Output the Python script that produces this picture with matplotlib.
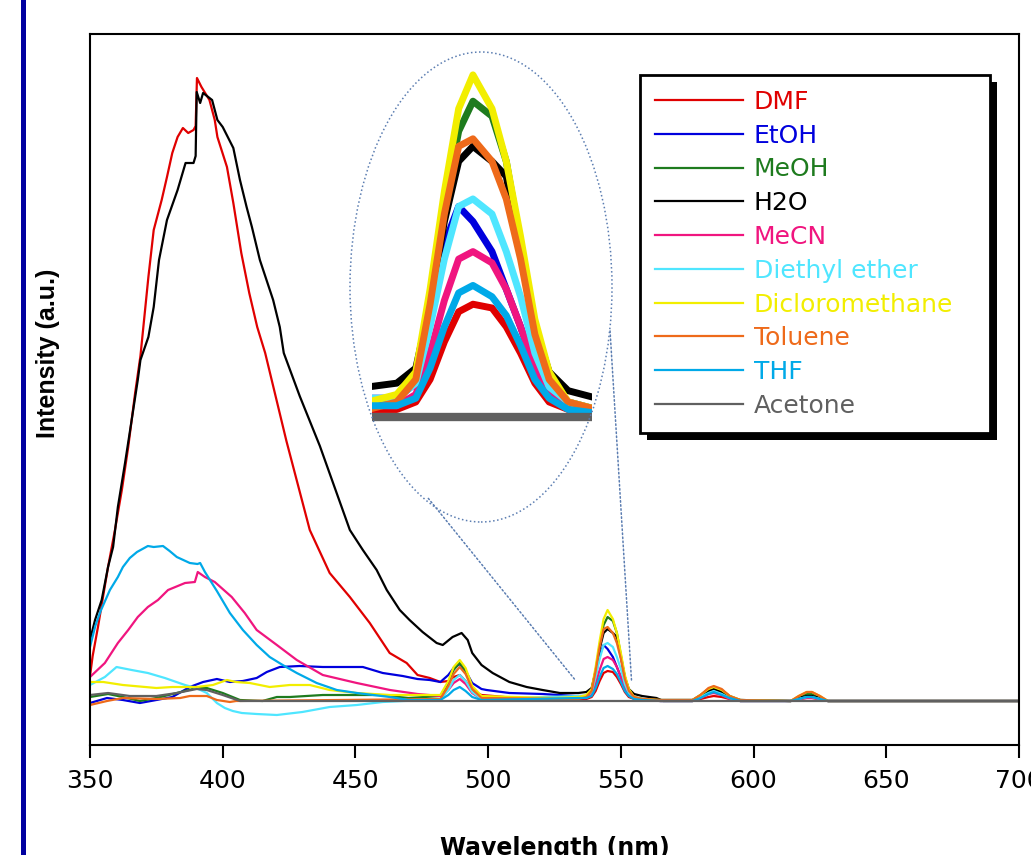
import matplotlib
matplotlib.use('Agg')
import matplotlib.pyplot as plt
from matplotlib.patches import Ellipse, Rectangle, ConnectionPatch
from matplotlib.lines import Line2D
from matplotlib.transforms import IdentityTransform

plt.rcParams['font.family'] = 'DejaVu Sans'

# emission spectra, (wavelength nm, intensity a.u.)
dmf = [(350, 25), (351, 45), (353, 74), (356.8, 134), (359.4, 171), (362, 211), (364.4, 254), (367, 308),
       (369, 345), (372, 424), (374, 471), (377, 501), (379, 524), (381, 548), (383, 564), (385, 573),
       (387, 568), (389, 571), (389.8, 575), (390.3, 623), (392, 614), (395, 601), (397, 581), (398, 564),
       (401.6, 534), (404, 498), (407, 448), (410, 408), (413, 374), (416, 348), (424, 260), (432.8, 171),
       (440.3, 128), (447.9, 104), (455.4, 78), (462.9, 48), (469.3, 38), (473.4, 26), (478, 23), (482, 19),
       (485, 20), (487, 24), (489.3, 26), (491.5, 20), (494, 10), (497.5, 6), (502, 5), (510, 3), (520, 1),
       (534, 2), (537, 2), (539, 4), (540.5, 10), (542, 20), (543.5, 28), (545, 30), (547, 29), (548.5, 24),
       (550, 17), (551.5, 9), (553, 4), (555, 2), (558, 1), (565, 0), (577, 0), (580, 2), (583, 4), (585, 5),
       (588, 4), (591, 2), (595, 0), (614, 0), (617, 2), (620, 3), (622, 3), (625, 2), (628, 0), (700, 0)]

etoh = [(350, -2), (356.4, 3), (362.4, 1), (368.8, -2), (375, 1), (381, 4), (387.6, 14), (392.6, 19),
        (397.8, 22), (402.7, 19), (407.6, 20), (412.8, 23), (416.6, 29), (421.5, 34), (429, 35), (437.7, 34),
        (445.2, 34), (452.8, 34), (460.3, 28), (467.8, 25), (473.4, 22), (478, 21), (482, 19), (485, 26),
        (487, 33), (489.3, 37), (491.5, 30), (494, 18), (497.5, 12), (499.4, 11), (508, 8), (520.5, 7),
        (533, 5), (537, 5), (539, 9), (540.5, 25), (542, 46), (543.5, 56), (545, 52), (547, 44), (548.5, 34),
        (550, 24), (551.5, 13), (553, 6), (555, 3), (558, 2), (565, 1), (577, 1), (580, 5), (583, 10),
        (585, 11), (588, 8), (591, 3), (595, 1), (614, 0), (617, 2), (620, 4), (622, 4), (625, 2), (628, 0),
        (700, 0)]

meoh = [(350, 4), (356.8, 7), (362.4, 4), (368.8, 0), (375, 3), (382.7, 8), (390.2, 13), (394, 13),
        (400, 8), (406.5, 1), (415, 0), (420.4, 4), (425.3, 4), (437.7, 6), (450.5, 6), (459, 6), (470, 3),
        (482, 5), (485, 18), (487, 31), (489.3, 38), (491.5, 30), (494, 13), (497.5, 4), (520, 2), (534, 3),
        (537, 5), (539, 11), (540.5, 31), (542, 56), (543.5, 76), (545, 84), (547, 80), (548.5, 68),
        (550, 46), (551.5, 24), (553, 10), (555, 4), (558, 2), (565, 1), (577, 1), (580, 6), (583, 12),
        (585, 14), (588, 11), (591, 5), (595, 1), (614, 0), (617, 4), (620, 7), (622, 7), (625, 4), (628, 0),
        (700, 0)]

h2o = [(350, 61), (351.9, 81), (354.4, 101), (356.8, 134), (358.7, 154), (360.5, 194), (363.2, 238),
       (365.7, 281), (368, 321), (369, 341), (372, 364), (374, 394), (376, 441), (379, 481), (383, 511),
       (386, 538), (389, 538), (389.8, 545), (390.2, 609), (391.5, 598), (392.6, 608), (396, 601), (398, 581),
       (400, 574), (404, 553), (406.5, 521), (409, 494), (411, 474), (414, 441), (419, 401), (421.5, 374),
       (423, 348), (429, 305), (436.6, 255), (447.9, 171), (452.8, 151), (458, 131), (461.8, 111),
       (466.7, 91), (470.4, 81), (475.3, 69), (480.6, 58), (482.9, 56), (486.6, 64), (490, 68), (492.3, 61),
       (494, 48), (497.5, 36), (501.7, 28), (508, 19), (514.5, 14), (520.5, 11), (527, 8), (534, 8),
       (537, 9), (539, 13), (540.5, 30), (542, 52), (543.5, 68), (545, 72), (547, 68), (548.5, 64), (550, 44),
       (551.5, 24), (553, 12), (555, 7), (558, 5), (563.4, 3), (566, 0), (577, 0), (580, 4), (583, 10),
       (585, 12), (588, 9), (591, 4), (595, 0), (614, 0), (617, 3), (620, 5), (622, 5), (625, 3), (628, 0),
       (700, 0)]

mecn = [(350, 24), (355.6, 38), (360.5, 58), (364.4, 71), (368, 84), (371.8, 94), (375.6, 101),
        (379.4, 111), (385.8, 118), (389.5, 119), (390.6, 129), (393.3, 124), (397, 119), (403.4, 104),
        (408.3, 88), (412.8, 71), (420.4, 56), (427.9, 41), (437.7, 26), (450.5, 18), (463, 11), (473.4, 7),
        (482, 5), (485, 11), (487, 18), (489.3, 22), (491.5, 17), (494, 8), (497.5, 2), (534, 3), (537, 3),
        (539, 6), (540.5, 17), (542, 31), (543.5, 42), (545, 44), (547, 41), (548.5, 34), (550, 24),
        (551.5, 13), (553, 6), (555, 3), (558, 1), (565, 0), (577, 0), (580, 3), (583, 7), (585, 8), (588, 6),
        (591, 2), (595, 0), (614, 0), (617, 2), (620, 3), (622, 3), (625, 2), (628, 0), (700, 0)]

ether = [(350, 16), (355.6, 24), (360, 34), (365.7, 31), (371.8, 28), (378.2, 23), (385.8, 16), (390, 13),
         (394, 8), (397.8, -2), (400.8, -7), (403.8, -10), (407.2, -12), (412.8, -13), (420.4, -14),
         (430, -11), (440.3, -6), (450.5, -4), (460.3, -1), (467.8, 0), (482, 1), (485, 11), (487, 21),
         (489.3, 26), (491.5, 20), (494, 9), (497.5, 2), (534, 5), (537, 5), (539, 9), (540.5, 24), (542, 42),
         (543.5, 56), (545, 58), (547, 54), (548.5, 44), (550, 32), (551.5, 17), (553, 8), (555, 4), (558, 2),
         (565, 0), (577, 0), (580, 4), (583, 8), (585, 10), (588, 7), (591, 3), (595, 0), (614, 0), (617, 2),
         (620, 4), (622, 4), (625, 2), (628, 0), (700, 0)]

dcm = [(350, 19), (355, 19), (362.4, 16), (375, 13), (381, 14), (390.2, 14), (396.3, 16), (401.6, 21),
       (405, 19), (410.2, 18), (417.7, 14), (425.3, 16), (432.8, 16), (440.3, 11), (450.5, 8), (463, 6),
       (473.4, 6), (482, 6), (485, 20), (487, 34), (489.3, 41), (491.5, 33), (494, 15), (497.5, 5), (510, 4),
       (525, 3), (534, 4), (537, 6), (539, 12), (540.5, 34), (542, 60), (543.5, 82), (545, 91), (547, 82),
       (548.5, 68), (550, 48), (551.5, 26), (553, 12), (555, 4), (558, 2), (565, 1), (577, 1), (580, 6),
       (583, 12), (585, 14), (588, 11), (591, 5), (595, 1), (614, 0), (617, 5), (620, 9), (622, 9), (625, 5),
       (628, 0), (700, 0)]

toluene = [(350, -4), (356.4, 0), (362.4, 3), (375, 2), (384, 3), (387.6, 5), (394, 5), (397.8, 1),
           (402.7, -1), (405, 0), (482, 2), (485, 15), (487, 27), (489.3, 34), (491.5, 27), (494, 12),
           (497.5, 3), (534, 2), (537, 4), (539, 10), (540.5, 30), (542, 54), (543.5, 72), (545, 74),
           (547, 68), (548.5, 58), (550, 42), (551.5, 22), (553, 10), (555, 4), (558, 2), (565, 1), (577, 1),
           (580, 6), (583, 13), (585, 15), (588, 12), (591, 5), (595, 1), (614, 0), (617, 5), (620, 9),
           (622, 9), (625, 5), (628, 0), (700, 0)]

thf = [(350, 54), (352, 75), (354, 90), (357.5, 111), (360.5, 124), (362.4, 134), (365, 143), (367.7, 149),
       (371.8, 155), (374, 154), (377.5, 155), (380, 150), (382.7, 144), (387.6, 138), (390.5, 137),
       (391.5, 138), (393.3, 129), (397.8, 110), (402.7, 88), (407.6, 71), (412.8, 56), (417.7, 44),
       (422.6, 36), (427.9, 28), (435.4, 18), (443, 11), (450.5, 8), (463, 4), (470, 1), (482, 1), (485, 6),
       (487, 11), (489.3, 14), (491.5, 10), (494, 4), (497.5, 1), (534, 3), (537, 3), (539, 5), (540.5, 13),
       (542, 24), (543.5, 33), (545, 35), (547, 32), (548.5, 27), (550, 19), (551.5, 10), (553, 5), (555, 2),
       (558, 1), (565, 0), (577, 0), (580, 3), (583, 7), (585, 9), (588, 6), (591, 3), (595, 0), (614, 0),
       (617, 2), (620, 4), (622, 4), (625, 2), (628, 0), (700, 0)]

acetone = [(350, 6), (356.8, 8), (365, 5), (375, 5), (382.7, 8), (390.2, 12), (394, 11), (400, 6),
           (406.5, 0), (700, 0)]

labels = ['DMF', 'EtOH', 'MeOH', 'H2O', 'MeCN', 'Diethyl ether', 'Dicloromethane', 'Toluene', 'THF', 'Acetone']
colors = ['#E00000', '#0000DD', '#1E7B1E', '#000000', '#F0157F', '#4FE6FF', '#F2EE00', '#EE6A1A',
          '#00A9E8', '#606060']
series = [dmf, etoh, meoh, h2o, mecn, ether, dcm, toluene, thf, acetone]
xticks = [350, 400, 450, 500, 550, 600, 650, 700]

W, H = 1031, 855
fig = plt.figure(figsize=(W / 100, H / 100), dpi=100)
ax = fig.add_axes([90 / W, 1 - 745 / H, 929 / W, 711 / H])

for data, lab, col in zip(series, labels, colors):
    x, y = zip(*data)
    ax.plot(x, y, color=col, lw=1.6, label=lab)

ax.set_xlim(350, 700)
ax.set_ylim(-44, 667)
ax.set_xticks(xticks)
ax.tick_params(axis='x', direction='out', length=9.5, width=1.5, labelsize=18, pad=8)
ax.tick_params(axis='y', left=False, labelleft=False)
for sp in ax.spines.values():
    sp.set_linewidth(1.5)

# legend with hard black shadow, box stretched to the reference width
leg = ax.legend(loc='upper left', bbox_to_anchor=(640 / W, 1 - 432 / H, 350 / W, 357 / H),
                bbox_transform=fig.transFigure, mode='expand',
                borderaxespad=0, fontsize=18, frameon=True, fancybox=False, framealpha=1,
                edgecolor='black', handlelength=3.5, handletextpad=0.45, labelspacing=0.39,
                borderpad=0.6)
leg.get_frame().set_linewidth(2)
for t, c in zip(leg.get_texts(), colors):
    t.set_color(c)
for h in leg.get_lines():
    h.set_linewidth(1.6)

fig.canvas.draw()
bb = leg.get_window_extent()
shadow = Rectangle((bb.x0 + 7, bb.y0 - 7), bb.width, bb.height, transform=IdentityTransform(),
                   facecolor='black', edgecolor='none', zorder=4.9, clip_on=False)
ax.add_artist(shadow)

# zoomed inset of the 545 nm band
axin = fig.add_axes([372 / W, 1 - 422 / H, 220 / W, 352 / H])
for data, col in zip(series, colors):
    x, y = zip(*data)
    lw = 6 if col == '#606060' else 5
    axin.plot(x, y, color=col, lw=lw, solid_capstyle='butt')
axin.set_xlim(534.4, 557.5)
axin.set_ylim(-1.33, 92.3)
axin.axis('off')

dot = '#5B7DB1'
fig.add_artist(Ellipse((481 / W, 1 - 287 / H), 262 / W, 470 / H, transform=fig.transFigure,
                       fill=False, ls=':', ec=dot, lw=1.1))
for xy_data, xy_fig in [((532.5, 22), (428 / W, 1 - 498 / H)), ((554, 21), (610 / W, 1 - 330 / H))]:
    fig.add_artist(ConnectionPatch(xyA=xy_data, coordsA=ax.transData, xyB=xy_fig,
                                   coordsB=fig.transFigure, ls=':', color=dot, lw=1.1))

# blue rule at the left edge
fig.add_artist(Line2D([22.5 / W, 22.5 / W], [0, 1], color='#0000A0', lw=3.6, transform=fig.transFigure))

fig.text(48 / W, 1 - 353 / H, 'Intensity (a.u.)', rotation=90, ha='center', va='center',
         fontsize=18, fontweight='bold', family=['Liberation Sans', 'DejaVu Sans'])
fig.text(555 / W, 1 - 836 / H, 'Wavelength (nm)', ha='center', va='top', fontsize=17, fontweight='bold')

fig.savefig('out.png', dpi=100)
